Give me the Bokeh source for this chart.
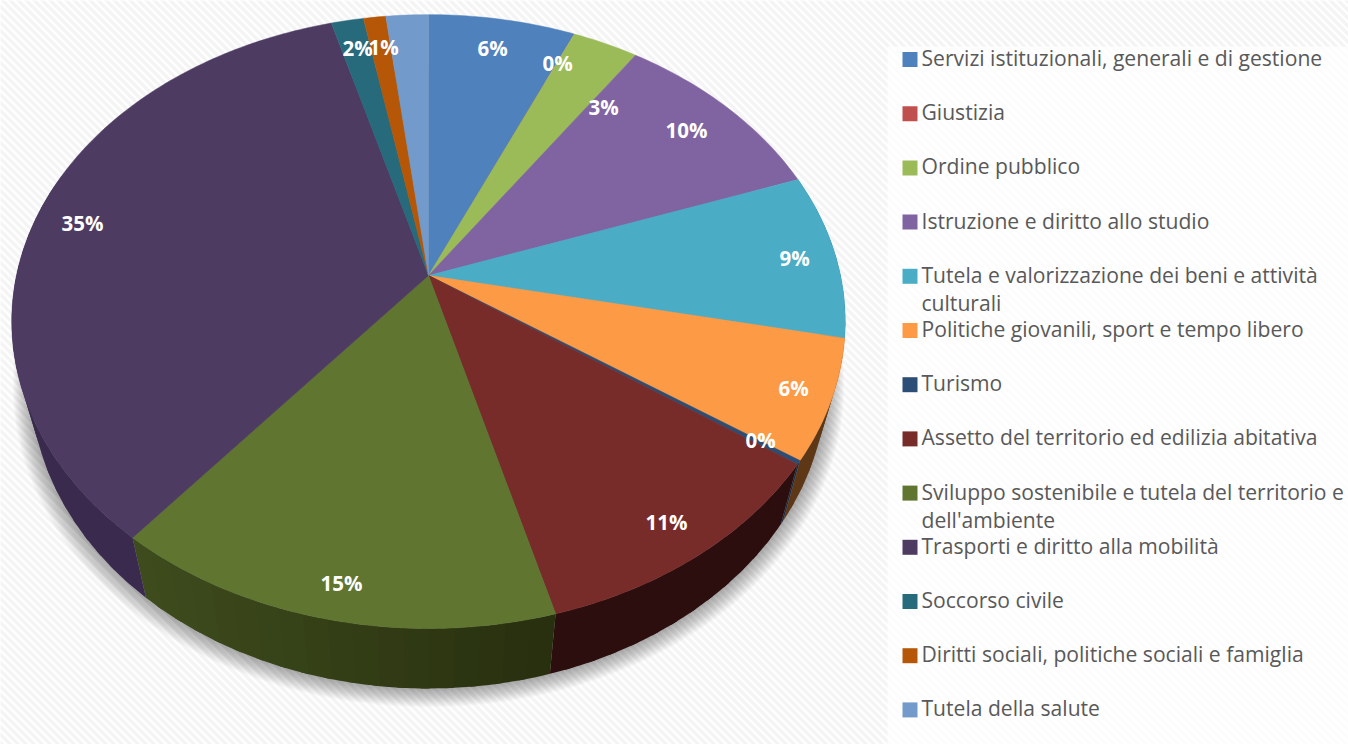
import numpy as np
from bokeh.embed import file_html
from bokeh.resources import INLINE
from bokeh.plotting import figure
from bokeh.models import Range1d
from bokeh.core.properties import value

categories = ["Servizi istituzionali, generali e di gestione", "Giustizia", "Ordine pubblico",
              "Istruzione e diritto allo studio", "Tutela e valorizzazione dei beni e attività\nculturali",
              "Politiche giovanili, sport e tempo libero", "Turismo", "Assetto del territorio ed edilizia abitativa",
              "Sviluppo sostenibile e tutela del territorio e\ndell'ambiente", "Trasporti e diritto alla mobilità",
              "Soccorso civile", "Diritti sociali, politiche sociali e famiglia", "Tutela della salute"]
shares = [6.58, 0.02, 2.95, 10.0, 8.7, 6.3, 0.2, 11.0, 15.2, 34.7, 1.45, 1.0, 1.9]
pct_labels = ["6%", "0%", "3%", "10%", "9%", "6%", "0%", "11%", "15%", "35%", "2%", "1%"]
colors = ["#4F81BD", "#C0504D", "#9BBB59", "#8064A2", "#4BACC6", "#FD9A46", "#2C4D75",
          "#772C2A", "#5F7530", "#4D3B62", "#276A7C", "#B65708", "#729ACA"]
side_a = ["#2f4d71", "#773333", "#5d7035", "#3a2b4e", "#2d6776", "#6a3f1a", "#1a2e46",
          "#351112", "#3e4c1d", "#3a2b4e", "#173f4a", "#6d3405", "#445c79"]
side_b = ["#2f4d71", "#773333", "#5d7035", "#3a2b4e", "#2d6776", "#5e3816", "#1a2e46",
          "#2c0e0e", "#272e0e", "#3a2b4e", "#173f4a", "#6d3405", "#445c79"]

# label anchors in page pixels (placed by hand in the source chart)
label_x = [492, 557, 603, 686, 794, 793, 760, 666, 341, 82, 357, 383]
label_y = [47, 62, 106, 129, 257, 387, 439, 521, 582, 222, 47, 46]

CX, CY, A, B, K = 428.0, 275.0, 412.0, 300.0, 0.15
DEPTH, SHRINK = 60.0, 0.955


def top_xy(theta):
    u, v = np.sin(theta), np.cos(theta)
    d = 1 + K * v
    return CX + A * u / d, CY - B * v / d


def bottom_xy(theta):
    x, y = top_xy(theta)
    return CX + SHRINK * (x - CX), y + DEPTH


def mix(c1, c2, t):
    a = [int(c1[i:i + 2], 16) for i in (1, 3, 5)]
    b = [int(c2[i:i + 2], 16) for i in (1, 3, 5)]
    return "#%02x%02x%02x" % tuple(int(round(a[i] + (b[i] - a[i]) * t)) for i in range(3))


p = figure(width=1348, height=744, output_backend="svg", toolbar_location=None,
           x_range=Range1d(0, 1348), y_range=Range1d(744, 0), min_border=0,
           background_fill_color="#ffffff", border_fill_color="#ffffff", outline_line_color=None)
p.axis.visible = False
p.grid.visible = False

# striped page background
offs = np.arange(-760, 1360, 8.0)
p.multi_line([[o, o + 780] for o in offs], [[-10, 770] for _ in offs],
             line_color="#f3f3f3", line_width=3.2, line_alpha=0.9)
# pale legend panel
p.quad(left=887, right=1348, top=46, bottom=744, fill_color="#ffffff", fill_alpha=0.72, line_color=None)

# soft drop shadow under the pie
t_all = np.linspace(0, 2 * np.pi, 361)
bx, by = bottom_xy(t_all)
for grow, dy in zip(np.linspace(18, 0, 19), np.linspace(5, 0, 19)):
    f = 1 + grow / 400
    p.patch(CX + (bx - CX) * f, by + dy + (by - (CY + 106)) * (f - 1), fill_color="#000000",
            fill_alpha=0.018, line_color=None)

# side wall and top face, from the shares
edges = np.concatenate([[0], np.cumsum(shares)]) / sum(shares) * 2 * np.pi
for i in range(len(shares)):
    a0, a1 = edges[i], edges[i + 1]
    n = max(int((a1 - a0) / np.radians(3)), 1)
    ts = np.linspace(a0, a1, n + 1)
    for j in range(n):
        end = ts[j + 1] + (np.radians(1.0) if j < n - 1 else 0)
        s = np.linspace(ts[j], end, 5)
        if np.cos(s).mean() > 0.35:
            continue
        tx, ty = top_xy(s)
        ux, uy = bottom_xy(s)
        col = mix(side_a[i], side_b[i], float(np.clip((tx.mean() - 140) / 420, 0, 1)))
        p.patch(np.r_[tx, ux[::-1]], np.r_[ty, uy[::-1]], fill_color=col, line_color=None)

for i in range(len(shares)):
    s = np.linspace(edges[i], edges[i + 1], max(int((edges[i + 1] - edges[i]) / np.radians(1)), 2) + 1)
    tx, ty = top_xy(s)
    p.patch(np.r_[CX, tx], np.r_[CY, ty], fill_color=colors[i], line_color=colors[i] if shares[i] > 0.1 else None,
            line_width=0.5)

# percentage labels
p.text(label_x, label_y, text=pct_labels, text_color="#ffffff", text_font=value("Open Sans"),
       text_font_style="bold", text_font_size="20.5px", text_align="center", text_baseline="middle")

# legend
ROW0, STEP = 59.0, 54.2
rows = [ROW0 + i * STEP for i in range(len(categories))]
p.quad(left=[902] * len(rows), right=[917] * len(rows), top=[r - 7.5 for r in rows], bottom=[r + 7.5 for r in rows],
       fill_color=colors, line_color=None)
tx, ty, tt = [], [], []
for r, c in zip(rows, categories):
    for k, line in enumerate(c.split("\n")):
        tx.append(921)
        ty.append(r - 2 + 28.5 * k)
        tt.append(line)
p.text(tx, ty, text=tt, text_color="#595959", text_font=value("Open Sans"), text_font_size="21.1px",
       text_align="left", text_baseline="middle")

open("out.html", "w").write(file_html(p, INLINE))
